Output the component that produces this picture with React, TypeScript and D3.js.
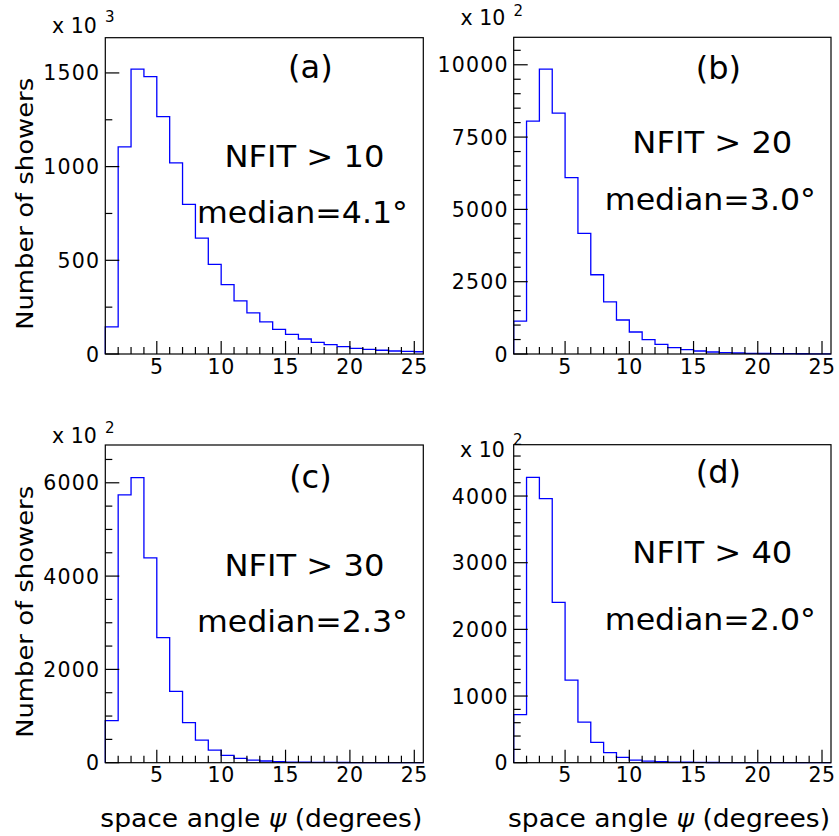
import React from "react";
import * as d3 from "d3";

const angleBins = [1, 2, 3, 4, 5, 6, 7, 8, 9, 10, 11, 12, 13, 14, 15, 16, 17, 18, 19, 20, 21, 22, 23, 24, 25];
const xTickLabels = [5, 10, 15, 20, 25];

const countsA = [145, 1105, 1520, 1480, 1267, 1020, 798, 618, 478, 370, 284, 219, 171, 131, 105, 80, 62, 50, 39, 30, 25, 20, 16, 14, 12];
const countsB = [1140, 8050, 9850, 8330, 6100, 4170, 2740, 1800, 1175, 760, 495, 334, 219, 150, 104, 70, 46, 35, 25, 18, 13, 10, 8, 6, 5];
const countsC = [900, 5740, 6110, 4390, 2680, 1530, 857, 486, 271, 157, 93, 57, 36, 21, 14, 10, 7, 5, 4, 3, 2, 2, 1, 1, 1];
const countsD = [720, 4280, 3960, 2405, 1240, 610, 305, 150, 80, 40, 25, 15, 10, 7, 5, 3, 2, 2, 1, 1, 1, 1, 1, 1, 0];

const yTicksA = [0, 500, 1000, 1500];
const yTicksB = [0, 2500, 5000, 7500, 10000];
const yTicksC = [0, 2000, 4000, 6000];
const yTicksD = [0, 1000, 2000, 3000, 4000];

const panelLabels = ["(a)", "(b)", "(c)", "(d)"];
const cutLabels = ["NFIT > 10", "NFIT > 20", "NFIT > 30", "NFIT > 40"];
const medianLabels = ["median=4.1°", "median=3.0°", "median=2.3°", "median=2.0°"];
const exponents = ["3", "2", "2", "2"];

const FONT = "'DejaVu Sans', sans-serif";

type PanelSpec = {
  counts: number[];
  yTicks: number[];
  yMax: number;
  minorStep: number;
  L: number; R: number; T: number; B: number;
  idx: number;
  labelY: number;
  cutY: number;
  medY: number;
  expX: number; expY: number; supY: number;
  showYLabel: boolean;
  showXLabel: boolean;
};

const panels: PanelSpec[] = [
  { counts: countsA, yTicks: yTicksA, yMax: 1688, minorStep: 250, L: 105.3, R: 423.3, T: 37.7, B: 354, idx: 0, labelY: 78, cutY: 167, medY: 222.5, expX: 52, expY: 33, supY: 22, showYLabel: true, showXLabel: false },
  { counts: countsB, yTicks: yTicksB, yMax: 10950, minorStep: 500, L: 513.7, R: 831, T: 37.3, B: 354, idx: 1, labelY: 79, cutY: 152.5, medY: 210, expX: 460.5, expY: 25, supY: 16, showYLabel: false, showXLabel: false },
  { counts: countsC, yTicks: yTicksC, yMax: 6810, minorStep: 500, L: 105.3, R: 423.3, T: 445, B: 762.7, idx: 2, labelY: 488, cutY: 576, medY: 631.5, expX: 52, expY: 443, supY: 433, showYLabel: true, showXLabel: true },
  { counts: countsD, yTicks: yTicksD, yMax: 4770, minorStep: 200, L: 513.7, R: 831, T: 444.7, B: 762.7, idx: 3, labelY: 483, cutY: 562.5, medY: 630, expX: 460, expY: 456.5, supY: 445, showYLabel: false, showXLabel: true },
];

function Panel({ p }: { p: PanelSpec }) {
  const xMin = 1, xMax = 25.7;
  const x = d3.scaleLinear().domain([xMin, xMax]).range([p.L, p.R]);
  const y = d3.scaleLinear().domain([0, p.yMax]).range([p.B, p.T]);

  const pts: [number, number][] = [[angleBins[0], 0]];
  angleBins.forEach((b, i) => pts.push([b, p.counts[i]]));
  pts.push([xMax, p.counts[p.counts.length - 1]]);
  const line = d3
    .line<[number, number]>()
    .x((d) => x(Math.min(d[0], xMax)))
    .y((d) => y(d[1]))
    .curve(d3.curveStepAfter);

  const minorY = d3.range(0, p.yMax + 0.001, p.minorStep).filter((v) => !p.yTicks.includes(v));
  const minorX = d3.range(2, 26, 1).filter((v) => v <= xMax && !xTickLabels.includes(v));

  const textCx = p.L + (p.R - p.L) * 0.645;

  return (
    <g>
      <path d={line(pts) || ""} fill="none" stroke="#0000ff" strokeWidth={1.3} />
      <rect x={p.L} y={p.T} width={p.R - p.L} height={p.B - p.T} fill="none" stroke="#000" strokeWidth={1.2} />
      {p.yTicks.map((v) => (
        <g key={"yt" + v}>
          <line x1={p.L} x2={p.L + 14} y1={y(v)} y2={y(v)} stroke="#000" strokeWidth={1.2} />
          <text x={p.L - 5} y={y(v) + 7.5} textAnchor="end" fontFamily={FONT} fontSize={20.5} letterSpacing={1.2} fill="#000">
            {v}
          </text>
        </g>
      ))}
      {minorY.map((v) => (
        <line key={"ym" + v} x1={p.L} x2={p.L + 7} y1={y(v)} y2={y(v)} stroke="#000" strokeWidth={1.2} />
      ))}
      {xTickLabels.map((v) => (
        <g key={"xt" + v}>
          <line x1={x(v)} x2={x(v)} y1={p.B} y2={p.B - 13} stroke="#000" strokeWidth={1.2} />
          <text x={x(v)} y={p.B + 19.5} textAnchor="middle" fontFamily={FONT} fontSize={20.5} letterSpacing={0.5} fill="#000">
            {v}
          </text>
        </g>
      ))}
      {minorX.map((v) => (
        <line key={"xm" + v} x1={x(v)} x2={x(v)} y1={p.B} y2={p.B - 7} stroke="#000" strokeWidth={1.2} />
      ))}
      <text x={p.expX} y={p.expY} fontFamily={FONT} fontSize={20.5} fill="#000">
        x 10
      </text>
      <text x={p.expX + 53} y={p.supY} fontFamily={FONT} fontSize={15} fill="#000">
        {exponents[p.idx]}
      </text>
      <text x={textCx} y={p.labelY} textAnchor="middle" fontFamily={FONT} fontSize={32} fill="#000">
        {panelLabels[p.idx]}
      </text>
      <text x={textCx - 6} y={p.cutY} textAnchor="middle" fontFamily={FONT} fontSize={30} textLength={160} lengthAdjust="spacingAndGlyphs" fill="#000">
        {cutLabels[p.idx]}
      </text>
      <text x={textCx - 8} y={p.medY} textAnchor="middle" fontFamily={FONT} fontSize={30} textLength={211} lengthAdjust="spacingAndGlyphs" fill="#000">
        {medianLabels[p.idx]}
      </text>
      {p.showYLabel && (
        <text
          transform={`translate(${p.L - 72},${(p.T + p.B) / 2 + 8}) rotate(-90)`}
          textAnchor="middle"
          fontFamily={FONT}
          fontSize={23}
          textLength={252}
          lengthAdjust="spacingAndGlyphs"
          fill="#000"
        >
          Number of showers
        </text>
      )}
      {p.showXLabel && (
        <text x={p.R - 162} y={826.5} textAnchor="middle" fontFamily={FONT} fontSize={24} textLength={322} lengthAdjust="spacingAndGlyphs" fill="#000">
          space angle <tspan fontStyle="italic">ψ</tspan> (degrees)
        </text>
      )}
    </g>
  );
}

export default function App() {
  return (
    <svg width={839} height={836} style={{ position: "absolute", left: 0, top: 0, background: "#fff" }}>
      <rect x={0} y={0} width={839} height={836} fill="#fff" />
      {panels.map((p) => (
        <Panel key={p.idx} p={p} />
      ))}
    </svg>
  );
}
